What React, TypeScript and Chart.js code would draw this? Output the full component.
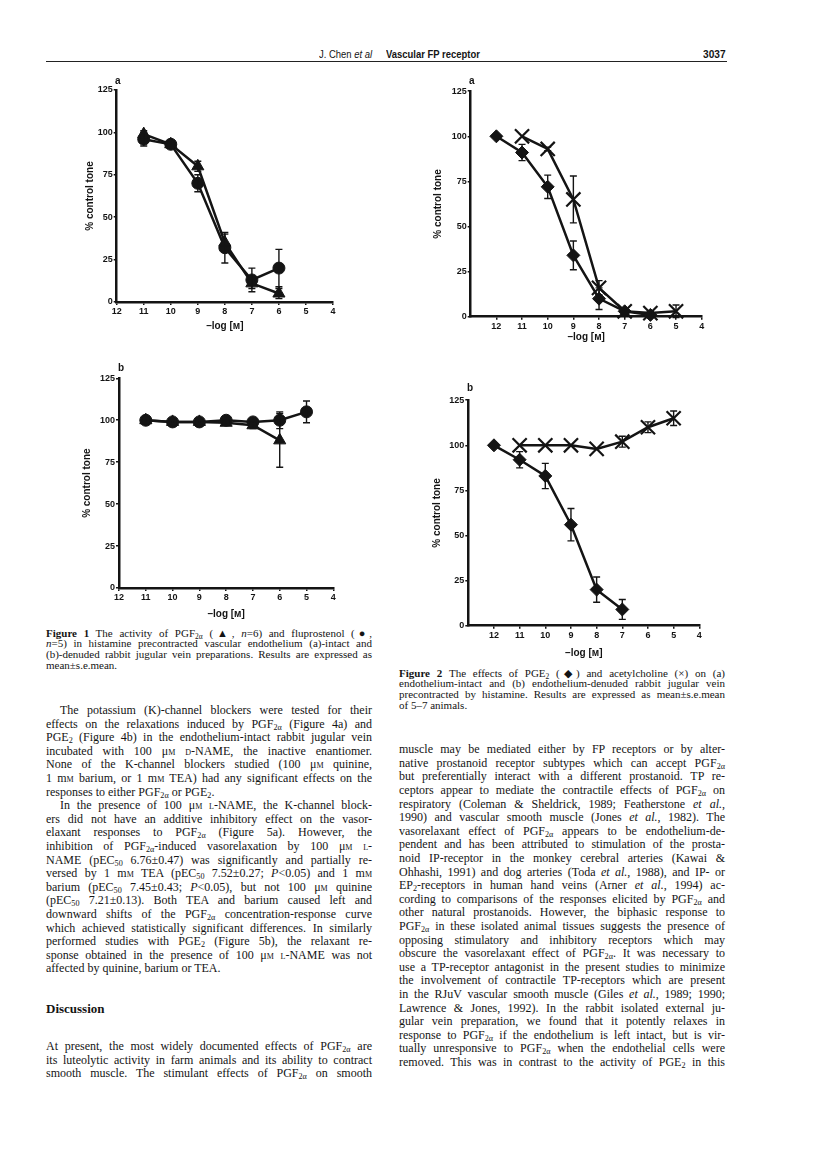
import React, { useEffect, useRef } from "react";
import { Chart, registerables } from "chart.js";
Chart.register(...registerables);

// ---------------- DATA ----------------
// Figure 1a: endothelium-intact  (PGF2a = triangle, fluprostenol = circle)
const fig1aPgfX = [11, 10, 9, 8, 7, 6];
const fig1aPgfY = [99, 93, 80, 35, 11, 5];
const fig1aPgfErr = [2, 2, 3, 5, 3, 3];
const fig1aFluX = [11, 10, 9, 8, 7, 6];
const fig1aFluY = [96, 93, 70, 32, 13, 20];
const fig1aFluErr = [4, 2, 5, 9, 7, 11];
// Figure 1b: endothelium-denuded
const fig1bPgfX = [11, 10, 9, 8, 7, 6];
const fig1bPgfY = [100, 99, 99, 98.5, 97, 88];
const fig1bPgfErr = [1, 1, 1, 1, 2, 16];
const fig1bFluX = [11, 10, 9, 8, 7, 6, 5];
const fig1bFluY = [100, 99, 99, 100, 99, 100, 105];
const fig1bFluErr = [1, 1, 1, 1, 1, 5, 6.5];
// Figure 2a: endothelium-intact  (PGE2 = diamond, acetylcholine = cross)
const fig2aPgeX = [12, 11, 10, 9, 8, 7, 6];
const fig2aPgeY = [100, 91, 72, 34, 10, 3, 1];
const fig2aPgeErr = [0, 4.5, 6.5, 8, 6, 1, 1];
const fig2aAchX = [11, 10, 9, 8, 7, 6, 5];
const fig2aAchY = [100, 93, 65, 16, 3, 2, 3];
const fig2aAchErr = [0, 1, 13, 4, 1, 1, 3.5];
// Figure 2b: endothelium-denuded
const fig2bPgeX = [12, 11, 10, 9, 8, 7];
const fig2bPgeY = [100, 92, 83, 56, 20, 9];
const fig2bPgeErr = [0, 4.5, 7, 9, 7, 5.5];
const fig2bAchX = [11, 10, 9, 8, 7, 6, 5];
const fig2bAchY = [100, 100, 100, 98, 102, 110, 115];
const fig2bAchErr = [0, 0, 0, 0, 3, 3, 4];

const yTicks = [0, 25, 50, 75, 100, 125];
const xTicks = [12, 11, 10, 9, 8, 7, 6, 5, 4];
const yTitle = "% control tone";
const xTitle = "\u2013log [\u1D0D]";

// ---------------- TEXT ----------------
const header = { authors: "J. Chen ", etal: "et al", title: "Vascular FP receptor", page: "3037" };

const caption1 = [
  "#[Figure 1]  The activity of PGF_[2α] (▲, *[n]=6) and fluprostenol (●,",
  "*[n]=5) in histamine precontracted vascular endothelium (a)-intact and",
  "(b)-denuded rabbit jugular vein preparations. Results are expressed as",
  "mean±s.e.mean.",
];
const caption2 = [
  "#[Figure 2]  The effects of PGE_[2] (◆) and acetylcholine (×) on (a)",
  "endothelium-intact and (b) endothelium-denuded rabbit jugular vein",
  "precontracted by histamine. Results are expressed as mean±s.e.mean",
  "of 5–7 animals.",
];
const leftPara1 = [
  "The potassium (K)-channel blockers were tested for their",
  "effects on the relaxations induced by PGF_[2α] (Figure 4a) and",
  "PGE_[2] (Figure 4b) in the endothelium-intact rabbit jugular vein",
  "incubated with 100 μ^[m] ^[d]-NAME, the inactive enantiomer.",
  "None of the K-channel blockers studied (100 μ^[m] quinine,",
  "1 m^[m] barium, or 1 m^[m] TEA) had any significant effects on the",
  "responses to either PGF_[2α] or PGE_[2].",
];
const leftPara2 = [
  "In the presence of 100 μ^[m] ^[l]-NAME, the K-channel block-",
  "ers did not have an additive inhibitory effect on the vasor-",
  "elaxant responses to PGF_[2α] (Figure 5a). However, the",
  "inhibition of PGF_[2α]-induced vasorelaxation by 100 μ^[m] ^[l]-",
  "NAME (pEC_[50] 6.76±0.47) was significantly and partially re-",
  "versed by 1 m^[m] TEA (pEC_[50] 7.52±0.27; *[P]<0.05) and 1 m^[m]",
  "barium (pEC_[50] 7.45±0.43; *[P]<0.05), but not 100 μ^[m] quinine",
  "(pEC_[50] 7.21±0.13). Both TEA and barium caused left and",
  "downward shifts of the PGF_[2α] concentration-response curve",
  "which achieved statistically significant differences. In similarly",
  "performed studies with PGE_[2] (Figure 5b), the relaxant re-",
  "sponse obtained in the presence of 100 μ^[m] ^[l]-NAME was not",
  "affected by quinine, barium or TEA.",
];
const discussionTitle = "Discussion";
const leftPara3 = [
  "At present, the most widely documented effects of PGF_[2α] are",
  "its luteolytic activity in farm animals and its ability to contract",
  "smooth muscle. The stimulant effects of PGF_[2α] on smooth",
];
const rightPara = [
  "muscle may be mediated either by FP receptors or by alter-",
  "native prostanoid receptor subtypes which can accept PGF_[2α]",
  "but preferentially interact with a different prostanoid. TP re-",
  "ceptors appear to mediate the contractile effects of PGF_[2α] on",
  "respiratory (Coleman & Sheldrick, 1989; Featherstone *[et al.],",
  "1990) and vascular smooth muscle (Jones *[et al.], 1982). The",
  "vasorelaxant effect of PGF_[2α] appears to be endothelium-de-",
  "pendent and has been attributed to stimulation of the prosta-",
  "noid IP-receptor in the monkey cerebral arteries (Kawai &",
  "Ohhashi, 1991) and dog arteries (Toda *[et al.], 1988), and IP- or",
  "EP_[2]-receptors in human hand veins (Arner *[et al.], 1994) ac-",
  "cording to comparisons of the responses elicited by PGF_[2α] and",
  "other natural prostanoids. However, the biphasic response to",
  "PGF_[2α] in these isolated animal tissues suggests the presence of",
  "opposing stimulatory and inhibitory receptors which may",
  "obscure the vasorelaxant effect of PGF_[2α]. It was necessary to",
  "use a TP-receptor antagonist in the present studies to minimize",
  "the involvement of contractile TP-receptors which are present",
  "in the RJuV vascular smooth muscle (Giles *[et al.], 1989; 1990;",
  "Lawrence & Jones, 1992). In the rabbit isolated external ju-",
  "gular vein preparation, we found that it potently relaxes in",
  "response to PGF_[2α] if the endothelium is left intact, but is vir-",
  "tually unresponsive to PGF_[2α] when the endothelial cells were",
  "removed. This was in contrast to the activity of PGE_[2] in this",
];

// ---------------- CHART ----------------
const INK = "#141414";
const SANS = "'Liberation Sans', Arial, sans-serif";
const SERIF = "'Liberation Serif', 'Times New Roman', serif";

const errorBarPlugin = {
  id: "errbars",
  afterDatasetsDraw(chart: any) {
    const ctx = chart.ctx;
    const xs = chart.scales.x;
    const ys = chart.scales.y;
    ctx.save();
    ctx.strokeStyle = INK;
    ctx.lineWidth = 1.4;
    chart.data.datasets.forEach((ds: any) => {
      ds.data.forEach((p: any, i: number) => {
        const e = ds.errs ? ds.errs[i] : 0;
        if (!e) return;
        const px = xs.getPixelForValue(p.x);
        const top = ys.getPixelForValue(p.y + e);
        const bot = ys.getPixelForValue(p.y - e);
        ctx.beginPath();
        ctx.moveTo(px, top);
        ctx.lineTo(px, bot);
        ctx.moveTo(px - 3.5, top);
        ctx.lineTo(px + 3.5, top);
        ctx.moveTo(px - 3.5, bot);
        ctx.lineTo(px + 3.5, bot);
        ctx.stroke();
      });
    });
    ctx.restore();
  },
};

type Series = { xs: number[]; ys: number[]; errs: number[]; style: string; radius: number };
type Geo = { left: number; top: number; axisX: number; x4: number; yTop: number; yBot: number; titleY: number; xMax: number };

function Panel({ geo, series }: { geo: Geo; series: Series[] }) {
  const ref = useRef<HTMLCanvasElement>(null);
  const width = Math.ceil(geo.x4 - geo.left + 14);
  const height = Math.round(geo.titleY + 10 - geo.top);
  useEffect(() => {
    const padTop = geo.yTop - geo.top;
    const ySW = geo.axisX - geo.left;
    const xSH = geo.top + height - geo.yBot;
    const padRight = geo.left + width - geo.x4;
    const tickFont = { family: SANS, size: 9, weight: "bold" as const };
    const titleFont = { family: SANS, size: 10, weight: "bold" as const };
    const gridCfg = { display: true, drawOnChartArea: false, drawTicks: true, tickLength: 3, color: INK, lineWidth: 1.5 };
    const chart = new Chart(ref.current as HTMLCanvasElement, {
      type: "line",
      data: {
        datasets: series.map((s) => ({
          data: s.xs.map((x, i) => ({ x, y: s.ys[i] })),
          errs: s.errs,
          borderColor: INK,
          borderWidth: 2.5,
          pointStyle: s.style,
          pointRadius: s.radius,
          pointBackgroundColor: INK,
          pointBorderColor: INK,
          pointBorderWidth: s.style === "crossRot" ? 2.2 : 1,
          tension: 0,
          fill: false,
          clip: false,
        })) as any,
      },
      options: {
        responsive: false,
        animation: false,
        devicePixelRatio: 1,
        events: [],
        layout: { padding: { top: padTop, right: padRight, left: 0, bottom: 0 } },
        plugins: { legend: { display: false }, tooltip: { enabled: false } },
        scales: {
          x: {
            type: "linear",
            reverse: true,
            min: 4,
            max: geo.xMax,
            afterBuildTicks: (s: any) => {
              s.ticks = xTicks.map((v) => ({ value: v }));
            },
            afterFit: (s: any) => {
              s.height = xSH;
              s.paddingLeft = 0;
              s.paddingRight = 0;
            },
            grid: gridCfg,
            border: { display: true, color: INK, width: 2.5 },
            ticks: { color: INK, font: tickFont, padding: 1, maxRotation: 0, autoSkip: false },
            title: { display: true, text: xTitle, color: INK, font: titleFont, padding: { top: 4, bottom: 4 } },
          },
          y: {
            type: "linear",
            min: 0,
            max: 125,
            afterBuildTicks: (s: any) => {
              s.ticks = yTicks.map((v) => ({ value: v }));
            },
            afterFit: (s: any) => {
              s.width = ySW;
              s.paddingTop = 0;
              s.paddingBottom = 0;
            },
            grid: gridCfg,
            border: { display: true, color: INK, width: 2.5 },
            ticks: { color: INK, font: tickFont, padding: 1, autoSkip: false },
            title: { display: true, text: yTitle, color: INK, font: titleFont, padding: { top: 4, bottom: 4 } },
          },
        },
      } as any,
      plugins: [errorBarPlugin],
    });
    return () => chart.destroy();
  }, []);
  return (
    <canvas
      ref={ref}
      width={width}
      height={height}
      style={{ position: "absolute", left: geo.left, top: geo.top, width, height }}
    />
  );
}

// ---------------- TEXT HELPERS ----------------
function rich(s: string) {
  const parts = s.split(/([_^*#]\[[^\]]*\])/g);
  return parts.map((p, i) => {
    const m = p.match(/^([_^*#])\[([^\]]*)\]$/);
    if (!m) return <React.Fragment key={i}>{p}</React.Fragment>;
    const t = m[1];
    const c = m[2];
    if (t === "_")
      return (
        <span key={i} style={{ fontSize: "0.68em", verticalAlign: "-0.3em", lineHeight: 0 }}>
          {c}
        </span>
      );
    if (t === "^") return <span key={i} style={{ fontVariant: "small-caps" }}>{c}</span>;
    if (t === "*") return <i key={i}>{c}</i>;
    return <b key={i}>{c}</b>;
  });
}

function Lines({
  lines, x, y0, step, width, size, indent = 0, lastLeft = true,
}: { lines: string[]; x: number; y0: number; step: number; width: number; size: number; indent?: number; lastLeft?: boolean }) {
  return (
    <>
      {lines.map((l, i) => {
        const last = i === lines.length - 1 && lastLeft;
        const lh = step + 2;
        return (
          <div
            key={i}
            style={{
              position: "absolute",
              left: x,
              top: y0 + i * step - lh / 2,
              width,
              height: lh,
              lineHeight: lh + "px",
              fontSize: size,
              fontFamily: SERIF,
              color: INK,
              whiteSpace: "nowrap",
              textAlign: last ? "left" : "justify",
              textAlignLast: last ? "left" : "justify",
              paddingLeft: i === 0 ? indent : 0,
              boxSizing: "border-box",
            } as any}
          >
            {rich(l)}
          </div>
        );
      })}
    </>
  );
}

function PanelLetter({ x, y, t }: { x: number; y: number; t: string }) {
  return (
    <div style={{ position: "absolute", left: x - 3, top: y - 6, fontFamily: SANS, fontWeight: "bold", fontSize: 10, lineHeight: "12px", color: INK }}>
      {t}
    </div>
  );
}

const HEAD_FONT = "'Liberation Sans Narrow', 'Liberation Sans', Arial, sans-serif";
const headStyle = (left: number, bold: boolean): React.CSSProperties => ({
  position: "absolute",
  left,
  top: 47,
  fontFamily: HEAD_FONT,
  fontWeight: bold ? "bold" : "normal",
  fontSize: 11,
  lineHeight: "14px",
  color: INK,
  whiteSpace: "nowrap",
  transform: "scaleX(0.86)",
  transformOrigin: "left center",
});

const geo1a: Geo = { left: 80, top: 80, axisX: 116.7, x4: 333, yTop: 90, yBot: 302, titleY: 326, xMax: 12 };
const geo1b: Geo = { left: 77, top: 368, axisX: 119, x4: 333.3, yTop: 378.3, yBot: 588, titleY: 614, xMax: 12 };
const geo2a: Geo = { left: 428, top: 79, axisX: 470.7, x4: 701.7, yTop: 89.3, yBot: 316.7, titleY: 337, xMax: 13 };
const geo2b: Geo = { left: 427, top: 388, axisX: 468.3, x4: 699.3, yTop: 398.3, yBot: 625.7, titleY: 652.7, xMax: 13 };

export default function App() {
  const tri = (xs: number[], ys: number[], errs: number[]): Series => ({ xs, ys, errs, style: "triangle", radius: 7 });
  const cir = (xs: number[], ys: number[], errs: number[]): Series => ({ xs, ys, errs, style: "circle", radius: 6 });
  const dia = (xs: number[], ys: number[], errs: number[]): Series => ({ xs, ys, errs, style: "rectRot", radius: 6.5 });
  const crs = (xs: number[], ys: number[], errs: number[]): Series => ({ xs, ys, errs, style: "crossRot", radius: 10 });
  return (
    <div style={{ position: "absolute", left: 0, top: 0, width: 816, height: 1151, background: "#fff", overflow: "hidden" }}>
      {/* running header */}
      <div style={headStyle(319, false)}>
        {header.authors}<i>{header.etal}</i>
      </div>
      <div style={headStyle(386, true)}>{header.title}</div>
      <div style={{ ...headStyle(703, true), transform: "scaleX(0.92)" }}>{header.page}</div>
      <div style={{ position: "absolute", left: 46, top: 60.8, width: 681, height: 1.5, background: "#222" }} />

      {/* charts */}
      <Panel geo={geo1a} series={[tri(fig1aPgfX, fig1aPgfY, fig1aPgfErr), cir(fig1aFluX, fig1aFluY, fig1aFluErr)]} />
      <Panel geo={geo1b} series={[tri(fig1bPgfX, fig1bPgfY, fig1bPgfErr), cir(fig1bFluX, fig1bFluY, fig1bFluErr)]} />
      <Panel geo={geo2a} series={[dia(fig2aPgeX, fig2aPgeY, fig2aPgeErr), crs(fig2aAchX, fig2aAchY, fig2aAchErr)]} />
      <Panel geo={geo2b} series={[dia(fig2bPgeX, fig2bPgeY, fig2bPgeErr), crs(fig2bAchX, fig2bAchY, fig2bAchErr)]} />
      <PanelLetter x={118} y={80.7} t="a" />
      <PanelLetter x={121} y={368} t="b" />
      <PanelLetter x={472} y={80.7} t="a" />
      <PanelLetter x={470} y={388} t="b" />

      {/* captions */}
      <Lines lines={caption1} x={46} y0={633} step={10.6} width={326} size={11} />
      <Lines lines={caption2} x={399} y0={673} step={10.6} width={326} size={11} />

      {/* left column body */}
      <Lines lines={leftPara1} x={46} y0={710.7} step={13.6} width={326} size={12} indent={14} />
      <Lines lines={leftPara2} x={46} y0={710.7 + 7 * 13.6} step={13.6} width={326} size={12} indent={14} />
      <div style={{ position: "absolute", left: 46, top: 1001, fontFamily: SERIF, fontWeight: "bold", fontSize: 13, lineHeight: "16px", color: INK }}>
        {discussionTitle}
      </div>
      <Lines lines={leftPara3} x={46} y0={1047} step={13.6} width={326} size={12} lastLeft={false} />

      {/* right column body */}
      <Lines lines={rightPara} x={399} y0={750} step={13.6} width={326} size={12} lastLeft={false} />
    </div>
  );
}
